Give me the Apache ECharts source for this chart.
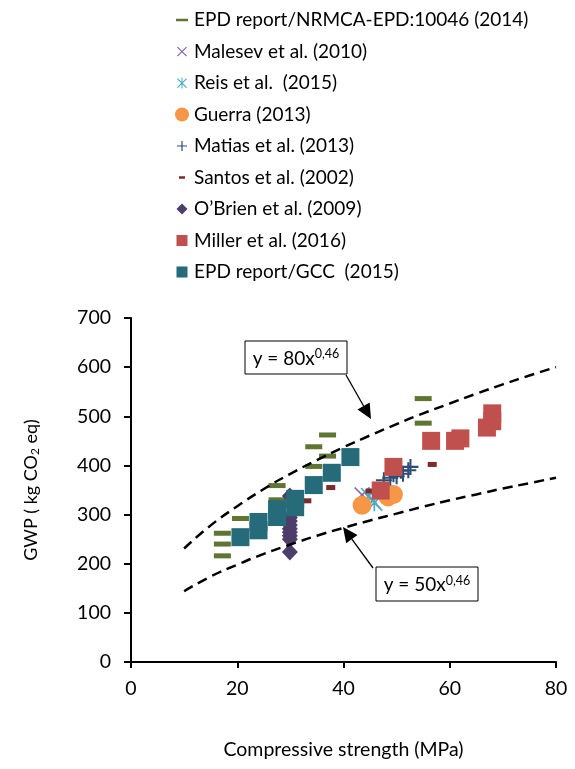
<!DOCTYPE html>
<html><head><meta charset="utf-8">
<script src="https://cdn.jsdelivr.net/npm/echarts@6/dist/echarts.min.js"></script>
<style>html,body{margin:0;padding:0;background:#fff}#c{width:575px;height:769px}</style>
</head><body><div id="c"></div>
<script>
const FONT = 'Lato';
const seriesNames = ['EPD report/NRMCA-EPD:10046 (2014)','Malesev et al. (2010)','Reis et al.  (2015)','Guerra (2013)','Matias et al. (2013)','Santos et al. (2002)','O\u2019Brien et al. (2009)','Miller et al. (2016)','EPD report/GCC  (2015)'];
const nrmca = [[17.2,262],[17.2,240],[17.2,216],[20.6,292],[27.5,359],[27.5,330],[34.4,438],[34.4,398],[37,462],[37,419],[55,536],[55,486]];
const malesev = [[43.5,340],[45.5,328]];
const reis = [[44.8,338],[45.8,324]];
const guerra = [[43.5,319],[48.4,336],[49.4,341]];
const matias = [[47.6,370],[48.8,375],[50,378],[51.2,383],[52.2,390],[52.6,397],[50.8,389],[49.4,382]];
const santos = [[33.1,328],[37.6,355],[45,348],[56.7,402]];
const obrien = [[29.9,224],[29.9,250],[29.9,257],[29.9,264],[29.9,271],[29.9,279],[29.9,287],[29.9,294],[29.9,338]];
const miller = [[47,349],[49.4,397],[56.5,450],[61,450],[62,455],[67,477],[68,490],[68,506]];
const gcc = [[20.6,254],[24,268],[24,285],[27.5,295],[27.5,311],[30.9,315],[30.9,332],[34.4,360],[37.8,385],[41.3,417]];
const curveX = [10,15,20,25,30,35,40,45,50,55,60,65,70,75,80];
const upperY = [231,278,317,352,383,411,437,461,484,506,526,546,565,583,600];
const lowerY = [144,174,198,220,239,257,273,288,302,316,329,341,353,364,375];

const colors = ['#5f7532','#8064a2','#4bacc6','#f79646','#2c4d76','#7a2b2b','#4e3d6b','#c0504d','#256b7a'];
const pad = 'M0,0h0.01v0.01h-0.01Z M14,14h0.01v0.01h-0.01Z ';
const P_X = 'M0,1L1,0L14,13L13,14Z M13,0L14,1L1,14L0,13Z';
const P_AST = 'M0,1L1,0L14,13L13,14Z M13,0L14,1L1,14L0,13Z M6.3,0H7.7V14H6.3Z';
const P_PLUS = 'M6.1,0H7.9V14H6.1Z M0,6.1H14V7.9H0Z';
const legendIcons = [
  'path://' + pad + 'M1,5.8H13V8.2H1Z',
  'path://' + pad + 'M2,3L2.8,2.2L12,11.2L11.2,12Z M11.2,2.2L12,3L2.8,12L2,11.2Z',
  'path://' + pad + 'M2,3L2.8,2.2L12,11.2L11.2,12Z M11.2,2.2L12,3L2.8,12L2,11.2Z M6.5,1.5H7.5V12.5H6.5Z',
  'circle',
  'path://' + pad + 'M6.4,2H7.6V12H6.4Z M2,6.4H12V7.6H2Z',
  'path://' + pad + 'M4,5.8H10V8.2H4Z',
  'path://' + pad + 'M7,1.5L12.5,7L7,12.5L1.5,7Z',
  'path://' + pad + 'M1.5,1.5H12.5V12.5H1.5Z',
  'path://' + pad + 'M1.5,1.5H12.5V12.5H1.5Z'
];
const datasets = [nrmca, malesev, reis, guerra, matias, santos, obrien, miller, gcc];
const symbols = ['rect','path://'+P_X,'path://'+P_AST,'circle','path://'+P_PLUS,'rect','diamond','rect','rect'];
const sizes = [[17,5],16,17,19,16,[9,5],[16,17],18,18];

const series = datasets.map((d,i)=>({
  name: seriesNames[i], type:'scatter', data:d, symbol:symbols[i], symbolSize:sizes[i],
  itemStyle:{color:colors[i], opacity:1}, z: 2+i, emphasis:{disabled:true}
}));
series.push({type:'line', data: curveX.map((x,i)=>[x,upperY[i]]), smooth:true, showSymbol:false, z:20,
  lineStyle:{color:'#000', width:2.5, type:[10,6]}});
series.push({type:'line', data: curveX.map((x,i)=>[x,lowerY[i]]), smooth:true, showSymbol:false, z:20,
  lineStyle:{color:'#000', width:2.5, type:[10,6]}});

function arrow(x1,y1,x2,y2){
  const dx=x2-x1, dy=y2-y1, L=Math.hypot(dx,dy), ux=dx/L, uy=dy/L;
  const hl=15, hw=7;
  const bx=x2-ux*hl, by=y2-uy*hl;
  return [
    {type:'line', shape:{x1:x1,y1:y1,x2:bx,y2:by}, style:{stroke:'#000', lineWidth:1.3}, z:30},
    {type:'polygon', shape:{points:[[x2,y2],[bx-uy*hw,by+ux*hw],[bx+uy*hw,by-ux*hw]]}, style:{fill:'#000'}, z:30}
  ];
}
function box(x,y,w,h,coef){
  return [
    {type:'rect', shape:{x:x,y:y,width:w,height:h}, style:{fill:'#fff', stroke:'#000', lineWidth:1}, z:31},
    {type:'text', x:x+w/2, y:y+h/2+1, z:32, style:{text:'{a|y = '+coef+'x}{b|0,46}', align:'center', verticalAlign:'middle',
      rich:{a:{fontFamily:FONT, fontSize:19, fill:'#000'}, b:{fontFamily:FONT, fontSize:12.5, fill:'#000', padding:[0,0,9,0]}}}}
  ];
}
const graphics = [].concat(
  arrow(346,375,371,419), box(245,341,102,33,'80'),
  arrow(373,568,343,527), box(376,567,102,34,'50')
);

const chart = echarts.init(document.getElementById('c'), null, {renderer:'canvas'});
chart.setOption({
  animation:false,
  backgroundColor:'#fff',
  grid:{left:131, right:19, top:318, bottom:107},
  legend:{orient:'vertical', left:170, top:5, itemWidth:14, itemHeight:14, itemGap:11.5, symbolKeepAspect:true,
    textStyle:{fontFamily:FONT, fontSize:19, color:'#000', lineHeight:20},
    data: seriesNames.map((n,i)=>({name:n, icon:legendIcons[i], itemStyle:{color:colors[i]}})),
    selectedMode:false},
  xAxis:{type:'value', min:0, max:80, interval:20,
    name:'Compressive strength (MPa)', nameLocation:'middle', nameGap:78,
    nameTextStyle:{fontFamily:FONT, fontSize:19.5, color:'#000'},
    axisLine:{show:true, lineStyle:{color:'#000', width:2}},
    axisTick:{show:true, length:6, lineStyle:{color:'#000', width:2}},
    axisLabel:{fontFamily:FONT, fontSize:19.5, color:'#000', margin:17},
    splitLine:{show:false}},
  yAxis:{type:'value', min:0, max:700, interval:100,
    name:'GWP ( kg CO{s|2} eq)', nameLocation:'middle', nameGap:90,
    nameTextStyle:{fontFamily:FONT, fontSize:18, color:'#000', rich:{s:{fontFamily:FONT, fontSize:12, padding:[8,0,0,0]}}},
    axisLine:{show:true, lineStyle:{color:'#000', width:2}},
    axisTick:{show:true, length:7, lineStyle:{color:'#000', width:2}},
    axisLabel:{fontFamily:FONT, fontSize:19.5, color:'#000', margin:20},
    splitLine:{show:false}},
  series: series,
  graphic: graphics
});
</script></body></html>
